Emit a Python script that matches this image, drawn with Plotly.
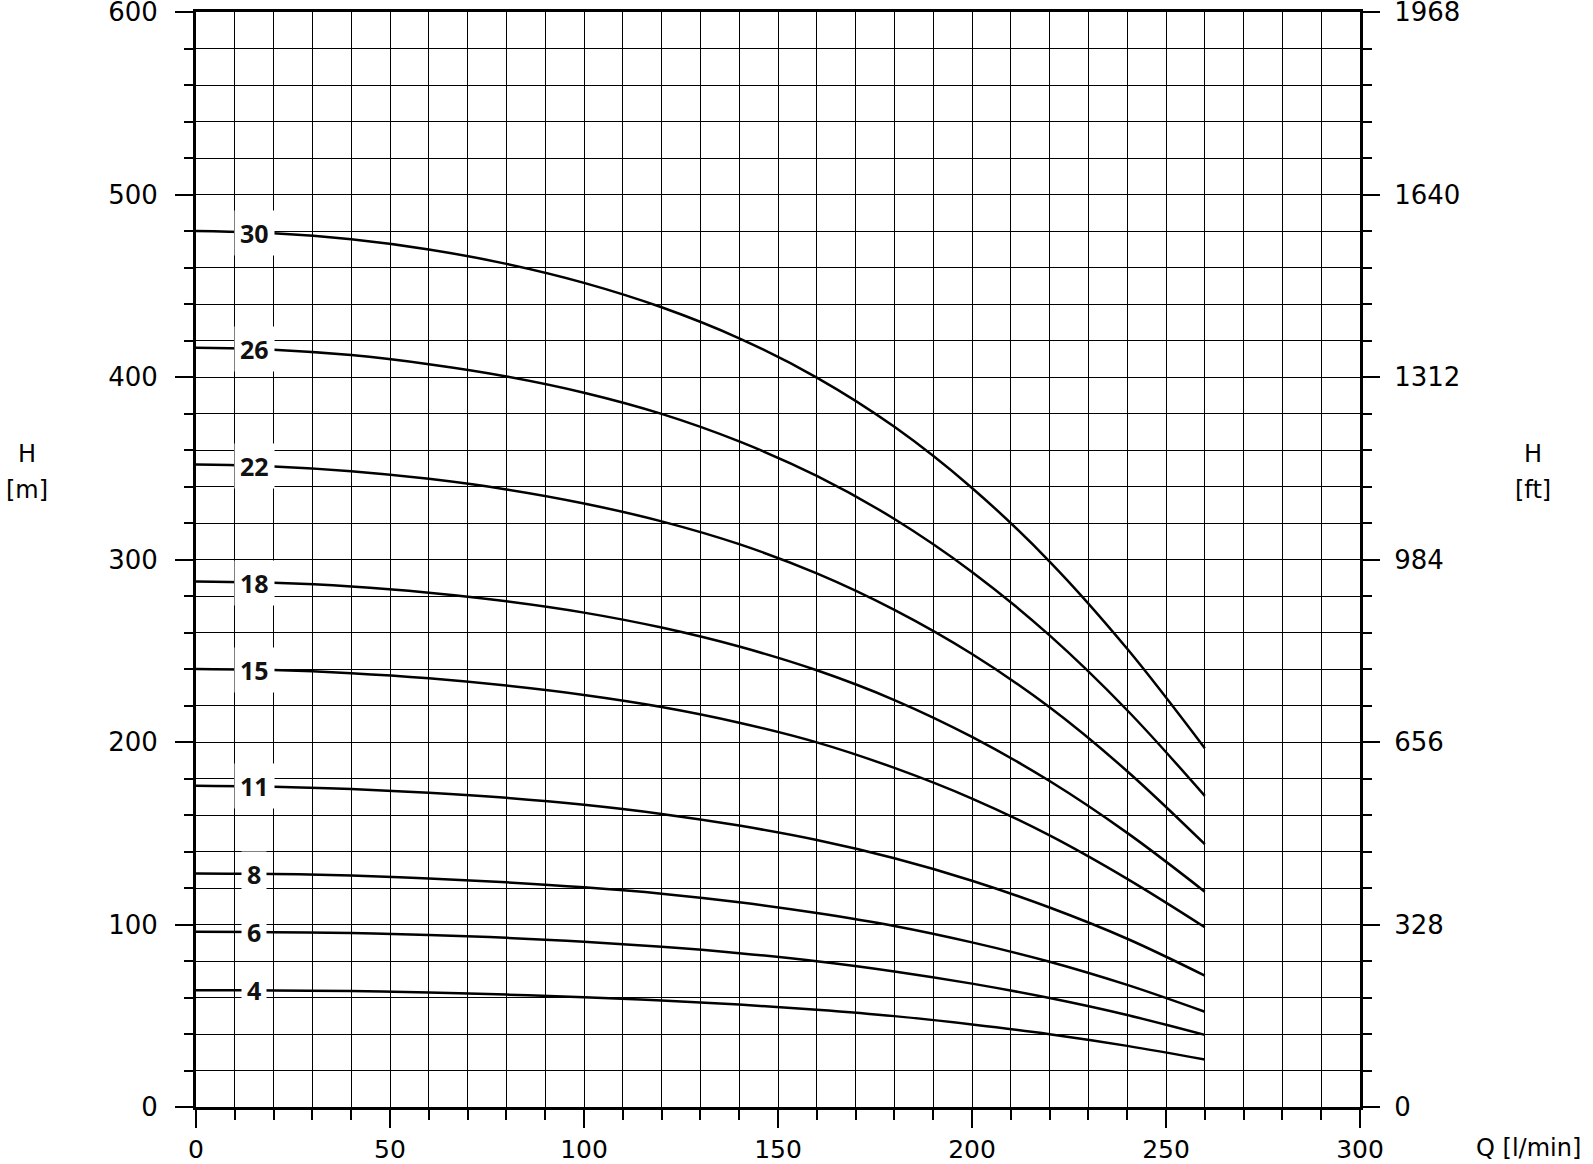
import numpy as np
import plotly.graph_objects as go

# ---------------- data ----------------
Q = [0, 20, 40, 60, 80, 100, 120, 140, 160, 180, 200, 220, 240, 260]

H_30 = [480, 478.8, 475.5, 469.9, 462, 451.6, 438.2, 421.2, 399.7, 372.7, 339.2, 298.9, 251.1, 196.6]
H_26 = [416, 415, 412, 407, 400.3, 391.4, 379.8, 364.7, 345.8, 322.2, 293.2, 258.4, 217.4, 170.5]
H_22 = [352, 351, 348.4, 344.2, 338.4, 330.7, 320.9, 308.4, 292.4, 272.4, 248.2, 219, 184, 144]
H_18 = [288, 287.2, 285.2, 281.8, 277.1, 270.9, 262.7, 252.3, 239.3, 223, 202.8, 178.6, 150.2, 118]
H_15 = [240, 239.4, 237.7, 234.9, 230.9, 225.8, 219.2, 210.6, 199.8, 185.8, 169, 148.8, 125, 98.5]
H_11 = [176, 175.5, 174.2, 172.2, 169.4, 165.6, 160.6, 154.2, 146.3, 136.3, 124, 109.3, 92.2, 72]
H_8 = [128, 127.7, 126.8, 125.2, 123.1, 120.4, 116.9, 112.2, 106.3, 99.2, 90.2, 79.6, 66.9, 52.2]
H_6 = [96, 95.8, 95.3, 94.3, 92.7, 90.5, 87.8, 84.3, 79.9, 74.3, 67.6, 59.7, 50.4, 39.5]
H_4 = [64, 63.9, 63.5, 62.7, 61.6, 60.2, 58.4, 56.1, 53.3, 49.8, 45.2, 39.9, 33.5, 26]

stage_labels = ["30", "26", "22", "18", "15", "11", "8", "6", "4"]
series = [H_30, H_26, H_22, H_18, H_15, H_11, H_8, H_6, H_4]
label_q = 15

x_tickvals = [0, 50, 100, 150, 200, 250, 300]
y_tickvals = [0, 100, 200, 300, 400, 500, 600]
y_ticktext_ft = ["0", "328", "656", "984", "1312", "1640", "1968"]

# ---------------- layout geometry ----------------
W, HGT = 1593, 1164
ML, MR, MT, MB = 196, 233, 12, 57
PW = W - ML - MR
PH = HGT - MT - MB


def px_to_paper(px, py):
    return (px - ML) / PW, (HGT - MB - py) / PH


FONT = "DejaVu Sans"
LBL_FONT = "Open Sans"

fig = go.Figure()

for name, h in zip(stage_labels, series):
    fig.add_trace(go.Scatter(
        x=Q, y=h, mode="lines", name=name,
        line=dict(color="black", width=2.5, shape="spline", smoothing=1.0),
        hoverinfo="skip", showlegend=False,
    ))

# invisible trace to bind the right (ft) axis
fig.add_trace(go.Scatter(x=Q, y=H_30, yaxis="y2", mode="lines",
                         line=dict(width=0, color="rgba(0,0,0,0)"),
                         hoverinfo="skip", showlegend=False))

# stage labels on white boxes
for name, h in zip(stage_labels, series):
    yv = float(np.interp(label_q, Q, h))
    fig.add_annotation(
        x=label_q, y=yv, xref="x", yref="y", text=name, showarrow=False,
        font=dict(family=LBL_FONT, size=25, color="#111111", weight="bold"),
        bgcolor="white", borderpad=5, xanchor="center", yanchor="middle",
    )

# axis titles
for txt, (px, py) in [("H", (27, 454)), ("[m]", (27, 490)),
                      ("H", (1533, 454)), ("[ft]", (1533, 490)),
                      ("Q [l/min]", (1528, 1148))]:
    ax, ay = px_to_paper(px, py)
    fig.add_annotation(x=ax, y=ay, xref="paper", yref="paper", text=txt,
                       showarrow=False, xanchor="center", yanchor="middle",
                       font=dict(family=FONT, size=24, color="black"))

fig.update_layout(
    width=W, height=HGT,
    margin=dict(l=ML, r=MR, t=MT, b=MB, pad=0, autoexpand=False),
    paper_bgcolor="white", plot_bgcolor="white",
    font=dict(family=FONT, size=25, color="black"),
    xaxis=dict(
        range=[0, 300], tickvals=x_tickvals, showgrid=True,
        gridcolor="black", gridwidth=1.4, automargin=False,
        ticks="outside", ticklen=18, tickwidth=1.5, tickcolor="black",
        minor=dict(dtick=10, tick0=0, ticks="outside", ticklen=10, tickwidth=1.5,
                   tickcolor="black", showgrid=True, gridcolor="black", gridwidth=1.4),
        showline=True, linewidth=3, linecolor="black", mirror=True,
        zeroline=False, ticklabelstandoff=0, ticklabeloverflow="allow",
        tickfont=dict(family=FONT, size=25, color="black"),
    ),
    yaxis=dict(
        range=[0, 600], tickvals=y_tickvals, showgrid=True,
        gridcolor="black", gridwidth=1.4, automargin=False,
        ticks="outside", ticklen=18, tickwidth=1.5, tickcolor="black",
        minor=dict(dtick=20, tick0=0, ticks="outside", ticklen=9, tickwidth=1.5,
                   tickcolor="black", showgrid=True, gridcolor="black", gridwidth=1.4),
        showline=True, linewidth=3, linecolor="black", mirror=True,
        zeroline=False, ticklabelstandoff=12, ticklabeloverflow="allow",
        tickfont=dict(family=FONT, size=26, color="black"),
    ),
    yaxis2=dict(
        range=[0, 600], overlaying="y", side="right", tickvals=y_tickvals,
        ticktext=y_ticktext_ft, showgrid=False, zeroline=False, showline=False,
        automargin=False,
        ticks="outside", ticklen=19, tickwidth=1.5, tickcolor="black",
        minor=dict(dtick=20, tick0=0, ticks="outside", ticklen=11, tickwidth=1.5,
                   tickcolor="black", showgrid=False),
        ticklabelstandoff=9, ticklabeloverflow="allow",
        tickfont=dict(family=FONT, size=26, color="black"),
    ),
)

fig.write_html("out.html",
               config={"displayModeBar": False},
               post_script="document.body.style.margin='0px';"
                           "document.body.style.overflow='hidden';")
